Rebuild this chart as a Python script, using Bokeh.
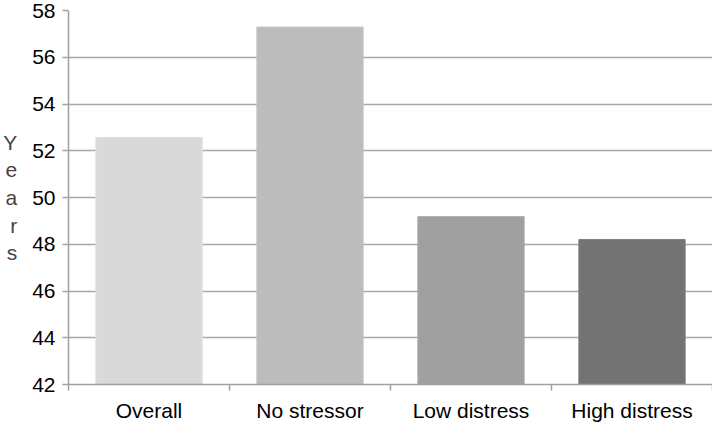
from bokeh.plotting import figure
from bokeh.models import Range1d, FixedTicker, ColumnDataSource
from bokeh.embed import file_html
from bokeh.resources import INLINE

categories = ["Overall", "No stressor", "Low distress", "High distress"]
values = [52.57, 57.29, 49.18, 48.2]
colors = ["#d9d9d9", "#bcbcbc", "#a0a0a0", "#737373"]
outline = ["#e0e0e0", "#c4c4c4", "#a8a8a8", "#7c7c7c"]
y_ticks = [42, 44, 46, 48, 50, 52, 54, 56, 58]

xs = [i + 0.5 for i in range(len(categories))]
src = ColumnDataSource(dict(x=xs, top=values, fill=colors, line=outline))

p = figure(width=712, height=424, output_backend="svg", toolbar_location=None,
           x_range=Range1d(0, len(categories)), y_range=Range1d(42, 58),
           min_border_left=66, min_border_right=0, min_border_top=10, min_border_bottom=2)
p.outline_line_color = None
p.background_fill_color = "white"

p.vbar(x="x", top="top", bottom=42, width=0.66, fill_color="fill", line_color="line",
       line_width=1, source=src)

font = "Liberation Sans"
# x axis
p.xaxis.ticker = FixedTicker(ticks=xs, minor_ticks=list(range(len(categories) + 1)))
p.xaxis.major_label_overrides = {x: c for x, c in zip(xs, categories)}
p.xaxis.major_tick_line_color = None
p.xaxis.minor_tick_out = 6
p.xaxis.minor_tick_in = 0
p.xaxis.minor_tick_line_color = "#a0a0a0"
p.xaxis.minor_tick_line_width = 1.5
p.xaxis.axis_line_color = "#a0a0a0"
p.xaxis.axis_line_width = 1.5
p.xaxis.major_label_text_font = font
p.xaxis.major_label_text_font_size = "21px"
p.xaxis.major_label_text_color = "black"
p.xaxis.major_label_standoff = 8

# y axis
p.yaxis.ticker = FixedTicker(ticks=y_ticks, minor_ticks=[])
p.yaxis.major_tick_out = 6
p.yaxis.major_tick_in = 0
p.yaxis.major_tick_line_color = "#a0a0a0"
p.yaxis.major_tick_line_width = 1.5
p.yaxis.axis_line_color = "#a0a0a0"
p.yaxis.axis_line_width = 1.5
p.yaxis.major_label_text_font = font
p.yaxis.major_label_text_font_size = "21px"
p.yaxis.major_label_text_color = "black"
p.yaxis.major_label_standoff = 7
p.yaxis.axis_label = "Y\ne\na\nr\ns"
p.yaxis.axis_label_orientation = "horizontal"
p.yaxis.axis_label_text_font = font
p.yaxis.axis_label_text_font_size = "21px"
p.yaxis.axis_label_text_font_style = "normal"
p.yaxis.axis_label_text_line_height = 1.2
p.yaxis.axis_label_standoff = 12

p.xgrid.grid_line_color = None
p.ygrid.grid_line_color = "#a8a8a8"
p.ygrid.grid_line_width = 1.5

open("out.html", "w").write(file_html(p, INLINE))
